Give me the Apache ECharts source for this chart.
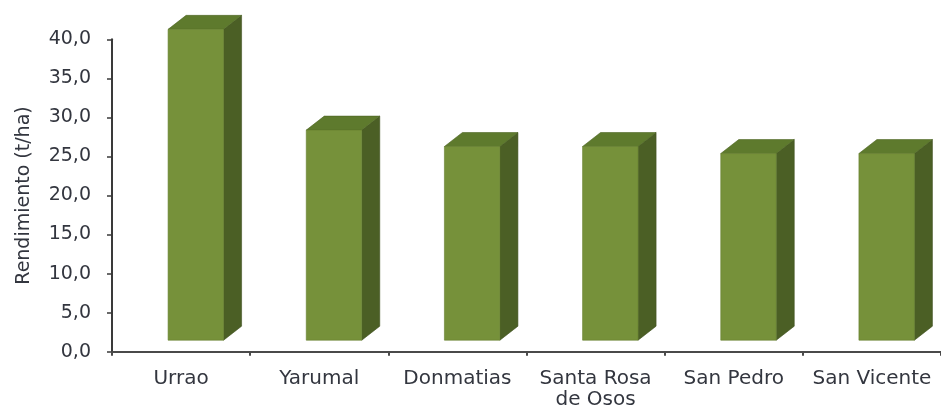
<!DOCTYPE html>
<html>
<head>
<meta charset="utf-8">
<script src="https://cdn.jsdelivr.net/npm/echarts@6/dist/echarts.min.js"></script>
<style>
html,body{margin:0;padding:0;background:#fff;}
#chart{width:941px;height:415px;}
</style>
</head>
<body>
<div id="chart"></div>
<script>
var categories = ['Urrao', 'Yarumal', 'Donmatias', 'Santa Rosa\nde Osos', 'San Pedro', 'San Vicente'];
var rendimiento = [39.8, 26.9, 24.8, 24.8, 23.9, 23.9];
var yAxisName = 'Rendimiento (t/ha)';

var FRONT = '#76913a', TOP = '#5e7a2d', SIDE = '#4b5f25';
var FONT = 'DejaVu Sans';
var TEXT = '#33363f';

var chart = echarts.init(document.getElementById('chart'), null, {renderer: 'canvas'});

function renderBar(params, api) {
  var idx = api.value(0), v = api.value(1);
  var top = api.coord([idx, v]);
  var base = api.coord([idx, 0]);
  var lift = 11.5;
  var fl = top[0] - 13, fr = fl + 55.5;
  var dx = 18, dy = 14;
  var yT = top[1] - lift, yB = base[1] - lift;
  return {
    type: 'group',
    children: [
      {type: 'polygon', shape: {points: [[fr, yT], [fr + dx, yT - dy], [fr + dx, yB - dy], [fr, yB]]},
       style: {fill: SIDE, stroke: '#3f5020', lineWidth: 0.6}},
      {type: 'polygon', shape: {points: [[fl, yT], [fl + dx, yT - dy], [fr + dx, yT - dy], [fr, yT]]},
       style: {fill: TOP, stroke: '#4d6523', lineWidth: 0.6}},
      {type: 'rect', shape: {x: fl, y: yT, width: fr - fl, height: yB - yT},
       style: {fill: FRONT, stroke: '#66802f', lineWidth: 0.6}}
    ]
  };
}

var option = {
  animation: false,
  backgroundColor: '#ffffff',
  grid: {left: 112, top: 39.3, width: 838, height: 312.4, containLabel: false},
  xAxis: {
    type: 'category',
    data: categories,
    boundaryGap: true,
    axisLine: {show: true, lineStyle: {color: '#4a4a4a', width: 2}},
    axisTick: {show: true, length: 4, lineStyle: {color: '#4a4a4a', width: 2}},
    axisLabel: {fontFamily: FONT, fontSize: 20, color: TEXT, margin: 17, lineHeight: 21, interval: 0}
  },
  yAxis: {
    type: 'value',
    min: 0, max: 40, interval: 5,
    name: yAxisName,
    nameLocation: 'middle',
    nameRotate: 90,
    nameGap: 78,
    nameTextStyle: {fontFamily: FONT, fontSize: 19, color: TEXT},
    axisLine: {show: true, lineStyle: {color: '#3a3a3a', width: 2}},
    axisTick: {show: true, length: 5, lineStyle: {color: '#3a3a3a', width: 1.5}},
    splitLine: {show: false},
    axisLabel: {fontFamily: FONT, fontSize: 19, color: TEXT, margin: 21,
      formatter: function (v) { return v.toFixed(1).replace('.', ','); }}
  },
  series: [{
    type: 'custom',
    renderItem: renderBar,
    data: rendimiento.map(function (v, i) { return [i, v]; }),
    encode: {x: 0, y: 1},
    clip: false
  }]
};
chart.setOption(option);
</script>
</body>
</html>
